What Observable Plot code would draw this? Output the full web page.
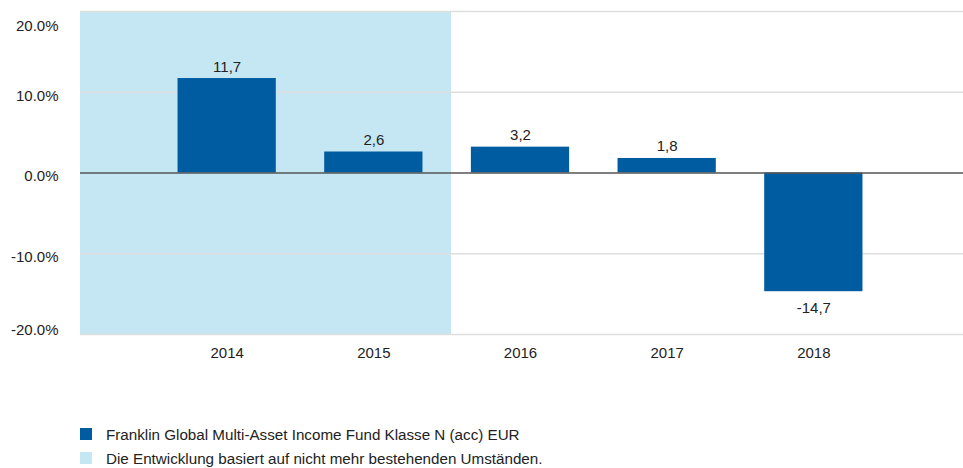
<!DOCTYPE html>
<html>
<head>
<meta charset="utf-8">
<script src="https://cdn.jsdelivr.net/npm/d3@7"></script>
<script src="https://cdn.jsdelivr.net/npm/@observablehq/plot@0.6"></script>
<style>
  html, body { margin: 0; padding: 0; background: #fff; }
  body { width: 963px; height: 468px; overflow: hidden; font-family: "Liberation Sans", Arial, sans-serif; }
  #legend { margin-top: 47px; padding-left: 80px; font-size: 15.2px; color: #222; }
  .row { display: flex; align-items: center; height: 24px; }
  .sw { width: 12px; height: 12px; margin-right: 14px; flex: none; }
</style>
</head>
<body>
<div id="chart"></div>
<div id="legend"></div>
<script>
// ---- data ----
const years = [2014, 2015, 2016, 2017, 2018];
const returns = [11.7, 2.6, 3.2, 1.8, -14.7];
const shadedYears = [2014, 2015];
const yTicks = [20, 10, 0, -10, -20];
const seriesName = "Franklin Global Multi-Asset Income Fund Klasse N (acc) EUR";
const shadeName = "Die Entwicklung basiert auf nicht mehr bestehenden Umständen.";

const barColor = "#005ca1";
const shadeColor = "#c4e7f3";
const font = '"Liberation Sans", Arial, sans-serif';

const data = years.map((year, i) => ({year, value: returns[i]}));
const xDomain = [years[0] - 1, years[years.length - 1] + 1];
const shade = [{x1: xDomain[0], x2: d3.max(shadedYears) + 0.53}];
const half = 0.335;
const fmt = v => v.toFixed(1).replace(".", ",");

const chart = Plot.plot({
  width: 963,
  height: 375,
  marginLeft: 80,
  marginRight: 0,
  marginTop: 11,
  marginBottom: 41,
  style: {fontFamily: font, fontSize: "15px", color: "#222", background: "#fff"},
  x: {domain: xDomain, range: [80, 960]},
  y: {domain: [-20, 20]},
  marks: [
    Plot.rectY(shade, {x1: "x1", x2: "x2", y1: -20, y2: 20, fill: shadeColor}),
    Plot.ruleY(yTicks.filter(t => t !== 0), {stroke: "#dedede", strokeWidth: 1.3}),
    Plot.rectY(data, {x1: d => d.year - half, x2: d => d.year + half, y: "value", fill: barColor}),
    Plot.ruleY([0], {stroke: "#555", strokeWidth: 1.6}),
    Plot.text(data.filter(d => d.value >= 0), {x: "year", y: "value", text: d => fmt(d.value), lineAnchor: "bottom", dy: -7, fill: "#222"}),
    Plot.text(data.filter(d => d.value < 0), {x: "year", y: "value", text: d => fmt(d.value), lineAnchor: "top", dy: 11, fill: "#222"}),
    Plot.axisX({ticks: years, tickFormat: d => String(d), tickSize: 0, tickPadding: 13, label: null, fill: "#222"}),
    Plot.axisY({ticks: [20], tickFormat: d => d.toFixed(1) + "%", tickSize: 0, tickPadding: 22, label: null, dy: 15, fill: "#222"}),
    Plot.axisY({ticks: [10, 0, -10], tickFormat: d => d.toFixed(1) + "%", tickSize: 0, tickPadding: 22, label: null, dy: 3.5, fill: "#222"}),
    Plot.axisY({ticks: [-20], tickFormat: d => d.toFixed(1) + "%", tickSize: 0, tickPadding: 22, label: null, dy: -4.5, fill: "#222"})
  ]
});
document.getElementById("chart").append(chart);

const legend = document.getElementById("legend");
[[barColor, seriesName], [shadeColor, shadeName]].forEach(([c, t]) => {
  const row = document.createElement("div");
  row.className = "row";
  const sw = document.createElement("span");
  sw.className = "sw";
  sw.style.background = c;
  const lab = document.createElement("span");
  lab.textContent = t;
  row.append(sw, lab);
  legend.append(row);
});
</script>
</body>
</html>
